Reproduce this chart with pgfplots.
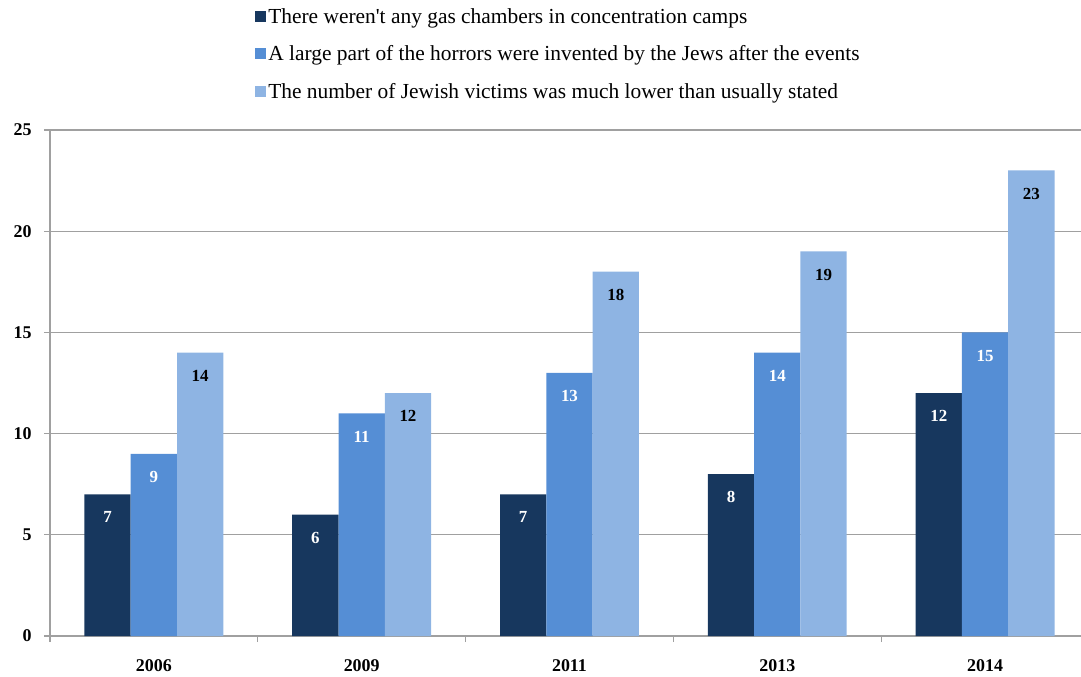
\documentclass[border=0pt]{standalone}
\usepackage{fontspec}
\setmainfont{Liberation Serif}
\usepackage{pgfplots}
\pgfplotsset{compat=1.18}
\definecolor{cA}{HTML}{17375E}
\definecolor{cB}{HTML}{558ED5}
\definecolor{cC}{HTML}{8EB4E3}
\definecolor{gridc}{HTML}{A0A0A0}
\begin{document}
\begin{tikzpicture}
\begin{axis}[
  scale only axis, width=1039bp, height=506bp,
  xmin=-0.5, xmax=4.5, ymin=0, ymax=25,
  ytick={0,5,...,25},
  ybar=0pt, bar width=46.3bp,
  axis x line*=bottom, axis y line*=left,
  axis line style={gridc, line width=1.2bp},
  ymajorgrids, grid style={gridc, line width=1.2bp},
  xtick={-0.5,0.5,...,4.5}, xticklabels={},
  extra x ticks={0,1,2,3,4},
  extra x tick labels={2006,2009,2011,2013,2014},
  extra x tick style={major tick length=0pt},
  tick align=outside, major tick length=6bp,
  tick style={gridc, line width=1.2bp},
  ticklabel style={font=\fontsize{18}{18}\selectfont\bfseries, text=black},
  xticklabel style={yshift=-20bp},
  yticklabel style={xshift=-9bp},
  /pgf/number format/assume math mode=true,
  nodes near coords,
  every node near coord/.append style={anchor=north, yshift=-14bp, font=\fontsize{17}{17}\selectfont\bfseries},
  legend style={at={(0.1945,1.249)}, anchor=north west, draw=none, fill=none,
    font=\fontsize{21.5}{21.5}\selectfont, row sep=17bp, cells={anchor=west}},
  legend image code/.code={\fill[#1] (0bp,-5.5bp) rectangle (11bp,5.5bp);},
]
\addplot[fill=cA, draw=none, every node near coord/.append style={text=white}] coordinates {(0,7)(1,6)(2,7)(3,8)(4,12)};
\addplot[fill=cB, draw=none, every node near coord/.append style={text=white}] coordinates {(0,9)(1,11)(2,13)(3,14)(4,15)};
\addplot[fill=cC, draw=none, every node near coord/.append style={text=black}] coordinates {(0,14)(1,12)(2,18)(3,19)(4,23)};
\legend{There weren\textquotesingle t any gas chambers in concentration camps,
A large part of the horrors were invented by the Jews after the events,
The number of Jewish victims was much lower than usually stated}
\end{axis}
\pgfresetboundingbox
\path (-50bp,-41bp) rectangle (1031bp,636bp);
\end{tikzpicture}
\end{document}
